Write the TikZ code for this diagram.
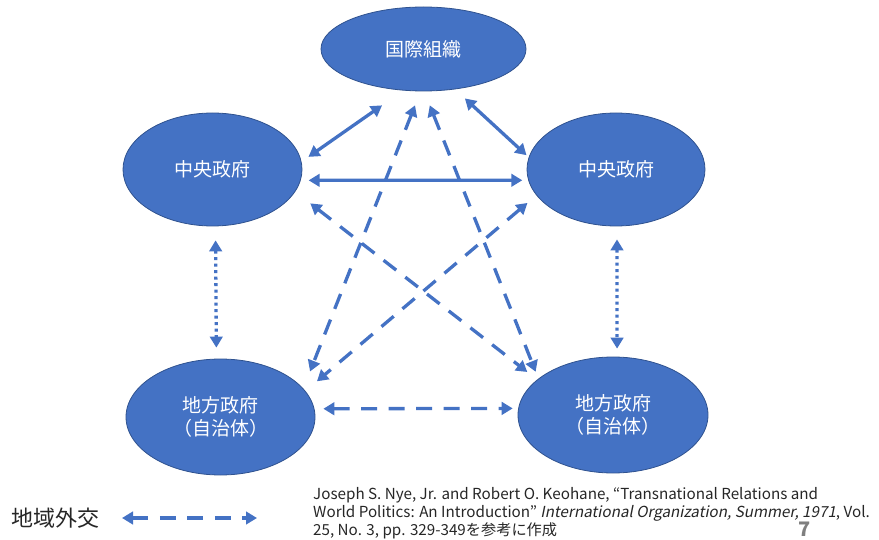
\documentclass[tikz,border=0pt]{standalone}
\usepackage{fontspec}
\setmainfont{Noto Sans CJK JP}[AutoFakeSlant=0.2]
\usetikzlibrary{shapes.geometric,arrows.meta}
\definecolor{nodefill}{HTML}{4472C4}
\definecolor{nodeline}{HTML}{2F528F}
\definecolor{arrowblue}{HTML}{4472C4}
\definecolor{textdark}{HTML}{262626}
\definecolor{pagegray}{HTML}{7F7F7F}
\begin{document}
\begin{tikzpicture}[x=1pt,y=-1pt,
  actor/.style={ellipse, fill=nodefill, draw=nodeline, line width=0.8pt, inner sep=0pt,
    text=white, font=\fontsize{19}{23}\selectfont, align=center},
  link/.style={draw=arrowblue, line width=3.3pt,
    {Triangle[length=11pt,width=12.5pt]}-{Triangle[length=11pt,width=12.5pt]}},
  dashlink/.style={link, dash pattern=on 16pt off 11.5pt},
  dotlink/.style={link, dash pattern=on 3pt off 3.5pt},
  cite/.style={anchor=base west, inner sep=0pt, text=textdark, font=\fontsize{15.2}{18}\selectfont}]
\useasboundingbox (0,0) rectangle (879,540);

\node[actor, minimum width=205pt, minimum height=84pt] (io) at (423.5,49) {国際組織};
\node[actor, minimum width=179pt, minimum height=113pt] (lc) at (212.5,169.5) {中央政府};
\node[actor, minimum width=178pt, minimum height=113pt] (rc) at (616,169.5) {中央政府};
\node[actor, minimum width=189pt, minimum height=116pt] (ll) at (220.5,417) {地方政府\\（自治体）};
\node[actor, minimum width=190pt, minimum height=116pt] (rl) at (613,415) {地方政府\\（自治体）};

\draw[link, shorten <=8.4pt, shorten >=25.8pt] (lc.5) -- (io.244);
\draw[link, shorten <=13.4pt, shorten >=3pt] (io.-52) -- (rc.172);
\draw[link, shorten <=7.9pt, shorten >=5.9pt] (lc.-7) -- (rc.187);
\draw[dotlink, shorten <=14pt, shorten >=11pt] (lc.-87) -- (ll.94);
\draw[dotlink, shorten <=13pt, shorten >=8pt] (rc.-89) -- (rl.86);
\draw[dashlink, shorten <=15pt, shorten >=18.3pt] (io.266) -- (ll.19);
\draw[dashlink, shorten <=15pt, shorten >=7.4pt] (io.-89) -- (rl.154);
\draw[dashlink, shorten <=19pt, shorten >=12.4pt] (lc.-15) -- (rl.155);
\draw[dashlink, shorten <=11.7pt, shorten >=15pt] (rc.198) -- (ll.17);
\draw[dashlink, shorten <=8.9pt, shorten >=5.5pt] (ll.5) -- (rl.176);

\node[text=textdark, font=\fontsize{22}{26}\selectfont, inner sep=0pt] (leg) at (56,518) {地域外交};
\coordinate (la) at (122,518);
\coordinate (lb) at (257,518);
\draw[dashlink] (la) -- (lb);

\node[cite] (c1) at (313,499) {Joseph S. Nye, Jr. and Robert O. Keohane, “Transnational Relations and};
\node[cite] (c2) at (313,517) {World Politics: An Introduction” \textit{International Organization, Summer, 1971}, Vol.};
\node[cite] (c3) at (313,535) {25, No. 3, pp. 329-349を参考に作成};
\node[text=pagegray, font=\fontsize{20}{24}\selectfont\bfseries, inner sep=0pt] (pg) at (805,529) {7};
\end{tikzpicture}
\end{document}
